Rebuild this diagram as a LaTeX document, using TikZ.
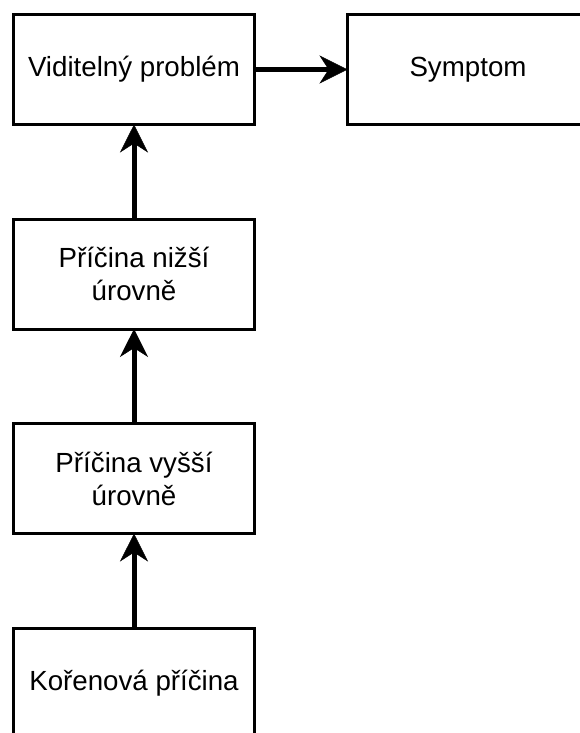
\documentclass[tikz,border=0pt]{standalone}
\usepackage{fontspec}
\setmainfont{Liberation Sans}
\usetikzlibrary{arrows.meta,positioning}

\begin{document}
\begin{tikzpicture}[
    box/.style={rectangle,draw=black,line width=3pt,minimum width=241pt,minimum height=110pt,outer sep=0pt,align=center,font=\fontsize{27.7}{33}\selectfont},
    arrow/.style={-{Stealth[length=28pt,width=28pt,inset=9pt,line width=0.5pt]},line width=5pt}
]
\useasboundingbox (0,0) rectangle (579pt,-733pt);
\node[box] (vis) at (134pt,-69.5pt) {Viditelný problém};
\node[box,right=93pt of vis] (sym) {Symptom};
\node[box,below=94.5pt of vis] (low) {Příčina nižší\\úrovně};
\node[box,below=94.5pt of low] (high) {Příčina vyšší\\úrovně};
\node[box,below=94.5pt of high] (root) {Kořenová příčina};
\draw[arrow] (vis) -- (sym);
\draw[arrow] (low) -- (vis);
\draw[arrow] (high) -- (low);
\draw[arrow] (root) -- (high);
\end{tikzpicture}
\end{document}
